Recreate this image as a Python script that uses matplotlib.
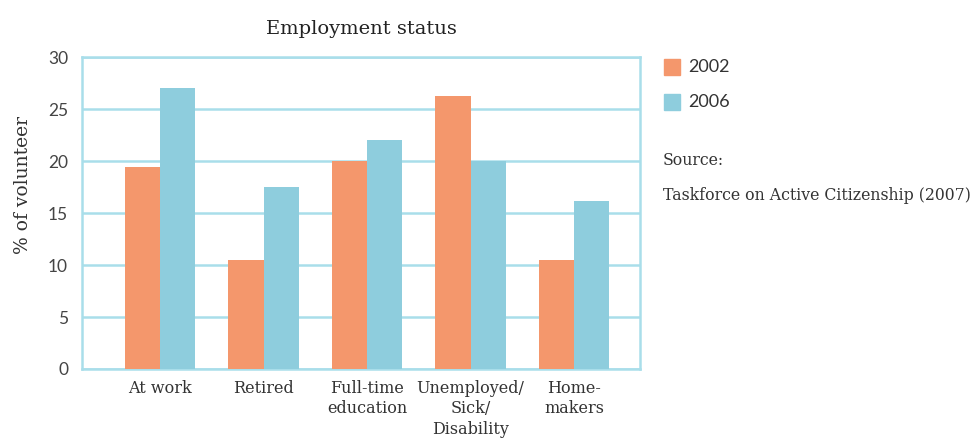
import matplotlib
matplotlib.use("Agg")
import matplotlib.pyplot as plt
import numpy as np
from matplotlib.patches import Rectangle

categories = ["At work", "Retired", "Full-time\neducation", "Unemployed/\nSick/\nDisability", "Home-\nmakers"]
series_2002 = [19.4, 10.5, 20.0, 26.3, 10.5]
series_2006 = [27.0, 17.5, 22.0, 20.0, 16.2]
years = ["2002", "2006"]
yticks = [0, 5, 10, 15, 20, 25, 30]

c02 = "#F4976C"
c06 = "#8ECDDD"
grid_c = "#A9DEEA"
text_c = "#333333"
serif = ["DejaVu Serif"]

fig = plt.figure(figsize=(9.76, 4.47), dpi=100)
ax = fig.add_axes([0.084, 0.1745, 0.572, 0.6975])

x = np.arange(len(categories))
w = 0.34
ax.bar(x - w / 2, series_2002, width=w, color=c02, zorder=3, label=years[0])
ax.bar(x + w / 2, series_2006, width=w, color=c06, zorder=3, label=years[1])

ax.set_xlim(-0.754, 4.638)
ax.set_ylim(0, 30)
ax.set_yticks(yticks)
ax.set_yticklabels([str(t) for t in yticks], fontsize=12.5, color="#444444", family="Lato")
ax.set_xticks(x)
ax.set_xticklabels(categories, fontsize=11.5, color=text_c, family=serif, linespacing=1.25)
ax.tick_params(length=0, pad=8)
ax.tick_params(axis="y", pad=10)
ax.grid(axis="y", color=grid_c, linewidth=1.8, zorder=0)
for s in ax.spines.values():
    s.set_color(grid_c)
    s.set_linewidth(1.8)

ax.set_ylabel("% of volunteer", fontsize=13.5, color=text_c, family=serif)
ax.yaxis.set_label_coords(-0.09, 0.59)
ax.set_title("Employment status", fontsize=14, color="#222222", family=serif, pad=17)

# legend drawn manually in figure coordinates
def fx(px):
    return px / 976
def fy(py):
    return 1 - py / 447

for i, (lab, col) in enumerate(zip(years, [c02, c06])):
    ycen = 67 + i * 35
    fig.patches.append(Rectangle((fx(664), fy(ycen + 8)), 16 / 976, 16 / 447,
                                 transform=fig.transFigure, color=col, figure=fig))
    fig.text(fx(688), fy(ycen), lab, fontsize=13, color=text_c, family="Lato", va="center")

fig.text(fx(663), fy(160), "Source:", fontsize=11.3, color=text_c, family=serif, va="center")
fig.text(fx(663), fy(196), "Taskforce on Active Citizenship (2007)", fontsize=11.3, color=text_c,
         family=serif, va="center")

fig.savefig("out.png", dpi=100)
